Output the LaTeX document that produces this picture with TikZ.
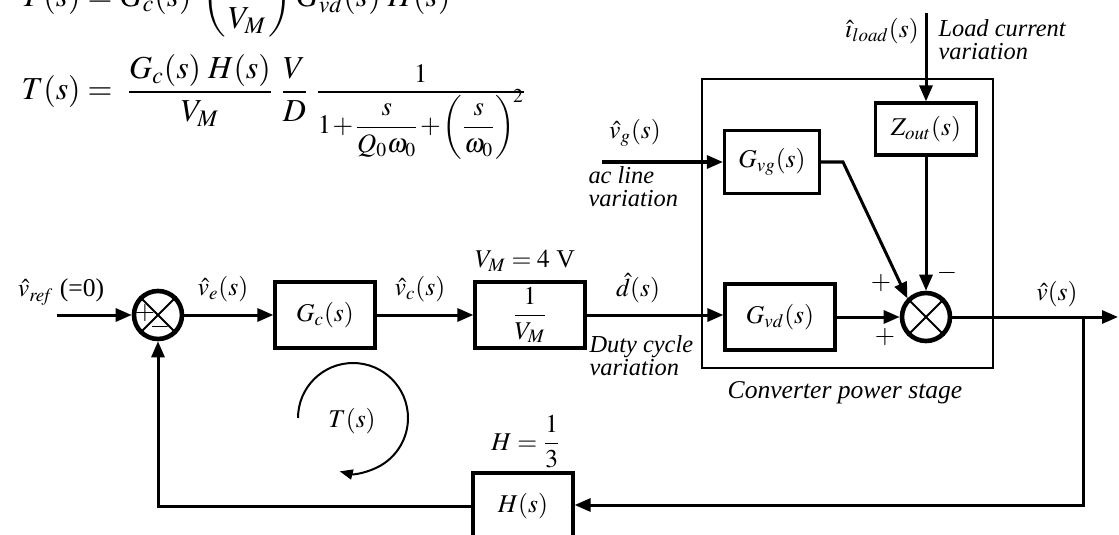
\documentclass[tikz,border=0pt]{standalone}
\usepackage{amsmath}
\usepackage{mathptmx}
\usepackage{fontspec}
\setmainfont{Liberation Serif}
\newfontfamily\tms{Liberation Serif}
\usetikzlibrary{arrows.meta}
\newcommand{\smallden}[1]{\mbox{\fontsize{13.3}{16}\selectfont\medmuskip=1mu$\displaystyle #1$}}
\begin{document}
\begin{tikzpicture}[x=0.5pt,y=-0.5pt,
  line width=1.5pt,
  >={Triangle[length=8pt,width=6.5pt]},
  every node/.style={font=\tms\fontsize{12.8}{15}\selectfont, inner sep=0pt},
  blk/.style={draw, line width=1.6pt, minimum width=#1},
  sumj/.style={circle, draw, line width=2.3pt, minimum size=24pt, inner sep=0pt},
  note/.style={font=\tms\fontsize{12.2}{11.5}\selectfont\itshape, align=left},
  eqn/.style={font=\tms\fontsize{16}{19}\selectfont},
  sgn/.style={font=\tms\fontsize{13}{15}\selectfont},
  frame/.style={draw, line width=0.7pt}
]
\useasboundingbox (0,0) rectangle (1119,535);
\clip (0,0) rectangle (1119,535);

% equations
\node[eqn, anchor=base west] (eq1) at (20,7) {$T(s) = G_c(s)\;\left(\dfrac{1}{V_M}\right) G_{vd}(s)\;H(s)$};
\node[eqn, anchor=base west] (eq2) at (20,100) {$T(s) = \;\dfrac{G_c(s)\;H(s)}{V_M}\;\dfrac{V}{D}\;\dfrac{\smash[b]{\raisebox{-2.3pt}{\smallden{1}}}}{\smash[t]{\raisebox{-6pt}{\smallden{1+\dfrac{s}{Q_0\omega_0}+\left(\dfrac{s}{\omega_0}\right)^{\!2}}}}}$};

% converter power stage frame
\draw[frame] (702,79) rectangle (993,368);
\node (cps) at (845,393) {\itshape Converter power stage};

% blocks
\node[blk=50pt, minimum height=33pt] (gc) at (325,315) {$G_c(s)$};
\node[blk=55pt, minimum height=33pt] (vm) at (530,315) {$\dfrac{1}{V_M}$};
\node[blk=55pt, minimum height=33pt] (gvd) at (780,317) {$G_{vd}(s)$};
\node[blk=47.5pt, minimum height=31.5pt] (gvg) at (772,162) {$G_{vg}(s)$};
\node[blk=50.5pt, minimum height=26pt] (zout) at (926,129) {$Z_{out}(s)$};
\node[blk=50pt, minimum height=33pt] (h) at (523,506) {$H(s)$};

% summing junctions
\node[sumj] (s1) at (158,315) {};
\draw[line width=0.9pt] (s1.45) -- (s1.225) (s1.135) -- (s1.-45);
\node[sgn] (p1) at (145,313) {$+$};
\node[sgn] (m1) at (160,327) {$-$};
\node[sumj] (s2) at (926,317) {};
\draw[line width=0.9pt] (s2.45) -- (s2.225) (s2.135) -- (s2.-45);
\node[sgn] (p2) at (881,283) {$+$};
\node[sgn] (p3) at (885,337) {$+$};
\node[sgn] (m2) at (947,273) {$-$};

% coordinates
\coordinate (vrefin) at (57,315);
\coordinate (out) at (1118,317);
\coordinate (br) at (1083,317);
\coordinate (brd) at (1083,505);
\coordinate (vgin) at (602,162);
\coordinate (gvgk) at (843,162);
\coordinate (iin) at (926,13);

% connectors
\draw[->] (vrefin) -- (s1.west);
\draw[->] (s1.east) -- (gc.west);
\draw[->] (gc.east) -- (vm.west);
\draw[->] (vm.east) -- (vm.east -| gvd.west);
\draw[->] (gvd.east) -- (s2.west);
\draw[->] (s2.east) -- (out);
\draw[->] (br) -- (brd) -- (brd -| h.east);
\draw[->] (h.west) -| (s1.south);
\draw[->] (vgin) -- (gvg.west);
\draw[->] (gvg.east) -- (gvgk) -- (s2.135);
\draw[->] (iin) -- (zout.north);
\draw[->] (zout.south) -- (s2.north);

% labels
\node (lvref) at (61,292) {$\hat{v}_{\mathit{ref}}$\ (=0)};
\node (lve) at (223,289) {$\hat{v}_e(s)$};
\node (lvc) at (420,289) {$\hat{v}_c(s)$};
\node (lvm) at (525,261) {$V_M = 4$ V};
\node (ld) at (638,288) {$\hat{d}(s)$};
\node[note, anchor=north west] (lduty) at (588,334) {Duty cycle\\variation};
\node (lvg) at (635,133) {$\hat{v}_g(s)$};
\node[note, anchor=north west] (lac) at (587,165) {ac line\\variation};
\node (li) at (882,31) {$\hat{\imath}_{load}(s)$};
\node[note, anchor=north west] (lload) at (937,18) {Load current\\variation};
\node (lv) at (1057,294) {$\hat{v}(s)$};
\node (lh) at (526,442) {$H = \dfrac{1}{3}$};

% loop gain arrow
\node (lt) at (352,421) {$T(s)$};
\draw[line width=1pt, -{Triangle[length=6.5pt,width=5pt]}] (298,418) arc[start angle=180, end angle=-104, radius=27.5pt];
\end{tikzpicture}
\end{document}
